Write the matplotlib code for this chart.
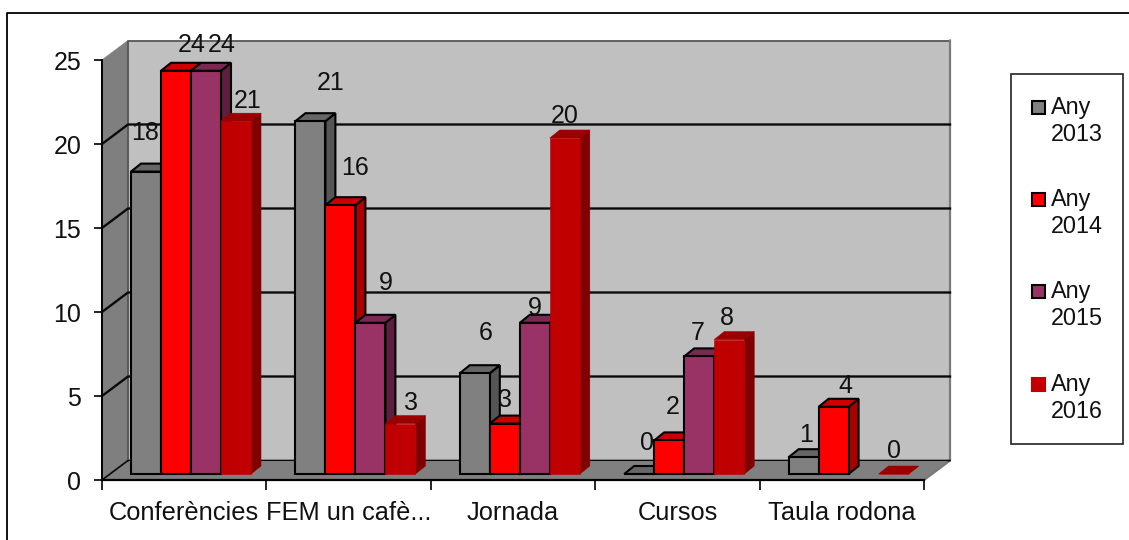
import matplotlib
matplotlib.use('Agg')
import matplotlib.pyplot as plt
from matplotlib.patches import Polygon, Rectangle

plt.rcParams['font.family'] = ['Liberation Sans', 'DejaVu Sans']

# data
categories = ['Conferències', 'FEM un cafè...', 'Jornada', 'Cursos', 'Taula rodona']
series_names = ['Any\n2013', 'Any\n2014', 'Any\n2015', 'Any\n2016']
any_2013 = [18, 21, 6, 0, 1]
any_2014 = [24, 16, 3, 2, 4]
any_2015 = [24, 9, 9, 7, None]
any_2016 = [21, 3, 20, 8, 0]
y_ticks = [0, 5, 10, 15, 20, 25]

# front, top, side colours
colors = [('#808080', '#666666', '#555555'),
          ('#FF0000', '#CC0000', '#AA0000'),
          ('#993366', '#7A2952', '#5C1F3D'),
          ('#C00000', '#9A0000', '#800000')]
edges = ['black', 'black', 'black', None]

# where the value labels sit relative to the bar's front top centre (pixels, +y = up)
label_nudge = [
    [(-1, 39), (16, 26), (16, 26), (12, 20)],
    [(20, 38), (15, 37), (15, 40), (11, 21)],
    [(11, 40), (0, 24), (0, 15), (0, 22)],
    [(8, 31), (3, 33), (-2, 23), (-2, 22)],
    [(2, 22), (12, 21), (0, 0), (0, 23)],
]

fig = plt.figure(figsize=(11.29, 5.40), dpi=100)

# pixel-coordinate layer for the outer frame and the legend
bg = fig.add_axes([0, 0, 1, 1], zorder=0)
bg.set_xlim(0, 1129)
bg.set_ylim(540, 0)
bg.axis('off')
bg.plot([6.5, 6.5, 1129], [540, 12.8, 12.8], color='black', lw=1.3)

bg.add_patch(Rectangle((1011, 74), 112, 370, fc='white', ec='#222222', lw=1.2))
legend_rows = [107, 199, 291, 384]
for i, row in enumerate(legend_rows):
    bg.add_patch(Rectangle((1032, row - 6.5), 13, 13, fc=colors[i][0],
                           ec=edges[i] or colors[i][0], lw=1.5))
    bg.text(1051, row - 11, series_names[i], fontsize=16.8, va='top', ha='left',
            linespacing=1.2, color='#111111')

# chart axes: 0..5 categories, 0..25 values
ax = fig.add_axes([102 / 1129, 1 - 480 / 540, 822 / 1129, 420 / 540], zorder=1)
ax.set_xlim(0, 5)
ax.set_ylim(0, 25)
ax.patch.set_visible(False)

px_x = 5 / 822    # one pixel in x data units
px_y = 25 / 420   # one pixel in y data units
wall_dx = 26 * px_x
wall_dy = 19.5 * px_y
bar_dx = 10 * px_x
bar_dy = 8 * px_y
bar_off = 29 * px_x
bar_w = 30 * px_x
base = 6 * px_y   # bars stand 6px above the front axis line


def poly(points, fc, ec=None, lw=1.4, z=1):
    ax.add_patch(Polygon(points, closed=True, fc=fc, ec=ec or fc, lw=lw, zorder=z,
                         clip_on=False, joinstyle='miter'))


# walls and floor
poly([(0, 0), (wall_dx, wall_dy), (5 + wall_dx, wall_dy), (5, 0)], '#808080', lw=0.5)
poly([(wall_dx, wall_dy), (wall_dx, 25 + wall_dy), (5 + wall_dx, 25 + wall_dy),
      (5 + wall_dx, wall_dy)], '#C0C0C0', lw=0.5)
poly([(0, 0), (0, 25), (wall_dx, 25 + wall_dy), (wall_dx, wall_dy)], '#7F7F7F', lw=0.5)
ax.plot([wall_dx, wall_dx, 5 + wall_dx], [wall_dy, 25 + wall_dy, 25 + wall_dy],
        color='#555555', lw=1.3, zorder=1.2, clip_on=False)
ax.plot([5 + wall_dx, 5 + wall_dx, 5], [25 + wall_dy, wall_dy, 0],
        color='#7a7a7a', lw=1.6, zorder=1.2, clip_on=False)

# gridlines on the back wall and their run across the left wall
for t in y_ticks:
    if t == 25:
        continue
    ax.plot([0, wall_dx, 5 + wall_dx], [t, t + wall_dy, t + wall_dy],
            color='#0a0a0a', lw=1.7 if t else 1.2, zorder=1.5, clip_on=False)

# bars, drawn left to right so later ones cover the sides of earlier ones
all_series = [any_2013, any_2014, any_2015, any_2016]
z = 3
for g in range(len(categories)):
    for s, values in enumerate(all_series):
        v = values[g]
        if v is None:
            continue
        x0 = g + bar_off + s * bar_w
        x1 = x0 + bar_w
        top = base + v
        front, top_c, side = colors[s]
        ec = edges[s]
        lw = 1.5 if ec else 0.4
        poly([(x1, base), (x1 + bar_dx, base + bar_dy), (x1 + bar_dx, top + bar_dy), (x1, top)],
             side, ec, lw, z)
        poly([(x0, top), (x0 + bar_dx, top + bar_dy), (x1 + bar_dx, top + bar_dy), (x1, top)],
             top_c, ec, lw, z)
        poly([(x0, base), (x0, top), (x1, top), (x1, base)], front, ec, lw, z)
        z += 0.01
        nudge = label_nudge[g][s]
        ax.annotate(str(v), xy=((x0 + x1) / 2, top), xytext=nudge, textcoords='offset pixels',
                    ha='center', va='center', fontsize=18, color='#111111',
                    zorder=10, annotation_clip=False)

# axes lines, ticks and labels
for name in ['top', 'right']:
    ax.spines[name].set_visible(False)
ax.spines['left'].set_linewidth(1.4)
ax.spines['bottom'].set_linewidth(1.6)
ax.spines['left'].set_zorder(2)
ax.spines['bottom'].set_zorder(2.5)
ax.set_yticks(y_ticks)
ax.tick_params(axis='y', length=6, width=1.2, pad=9, labelsize=18, labelcolor='#111111')
ax.set_xticks(range(len(categories) + 1))
ax.set_xticklabels([])
ax.set_xticks([i + 0.5 for i in range(len(categories))], minor=True)
ax.set_xticklabels(categories, minor=True)
ax.tick_params(axis='x', which='major', length=7, width=1.2)
ax.tick_params(axis='x', which='minor', length=0, pad=15, labelsize=18.3, labelcolor='#111111')

fig.savefig('out.png', dpi=100)
